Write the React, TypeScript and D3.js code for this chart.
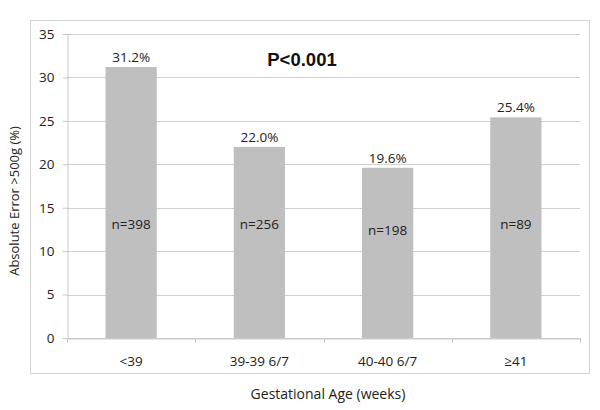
import { useEffect, useRef } from "react";
import * as d3 from "d3";

const categories = ["<39", "39-39 6/7", "40-40 6/7", "≥41"];
const errorPct = [31.2, 22.0, 19.6, 25.4];
const valueLabels = ["31.2%", "22.0%", "19.6%", "25.4%"];
const countLabels = ["n=398", "n=256", "n=198", "n=89"];
const countLabelAt = [13.1, 13.1, 12.4, 13.1];
const yTicks = [0, 5, 10, 15, 20, 25, 30, 35];

function App() {
    const ref = useRef<SVGSVGElement>(null);

    useEffect(() => {
        const svg = d3.select(ref.current);
        svg.selectAll("*").remove();

        const margin = {top: 34, right: 20, bottom: 72, left: 67};
        const width = 600 - margin.left - margin.right,
            height = 410 - margin.top - margin.bottom;
        const font = "'Open Sans', sans-serif";
        const fs = "13.5px";

        // outer frame
        svg.append("rect")
            .attr("x", 30.5).attr("y", 20.5)
            .attr("width", 559).attr("height", 353)
            .attr("fill", "white")
            .attr("stroke", "#d4d4d4");

        const g = svg.append("g")
            .attr("transform", `translate(${margin.left},${margin.top})`);

        const x = d3.scaleBand().domain(categories).range([0, width]).paddingInner(0.6).paddingOuter(0.3);
        const y = d3.scaleLinear().domain([0, 35]).range([height, 0]);

        // grid
        g.selectAll(".grid")
            .data(yTicks)
            .enter()
            .append("line")
            .attr("x1", 0).attr("x2", width)
            .attr("y1", d => Math.round(y(d)) + 0.5)
            .attr("y2", d => Math.round(y(d)) + 0.5)
            .attr("stroke", "#d0d0d0");

        // y axis
        const yAxis = g.append("g")
            .attr("transform", "translate(0.5,0)")
            .call(d3.axisLeft(y).tickValues(yTicks).tickSize(5).tickPadding(8));
        yAxis.select(".domain").attr("stroke", "#c8c8c8");
        yAxis.selectAll(".tick line").attr("stroke", "#c8c8c8");
        yAxis.selectAll("text")
            .style("font-family", font).style("font-size", fs).attr("fill", "#222");

        // bars
        g.selectAll(".bar")
            .data(errorPct)
            .enter()
            .append("rect")
            .attr("x", (d, i) => x(categories[i])!)
            .attr("width", x.bandwidth())
            .attr("y", d => y(d))
            .attr("height", d => height - y(d))
            .attr("fill", "#bfbfbf");

        // x axis
        const xAxis = g.append("g")
            .attr("transform", `translate(0,${Math.round(height) + 0.5})`)
            .call(d3.axisBottom(x).tickSize(0).tickPadding(18));
        xAxis.select(".domain").attr("stroke", "#c8c8c8");
        xAxis.selectAll("text")
            .style("font-family", font).style("font-size", fs).attr("fill", "#222");
        g.selectAll(".xsep")
            .data(d3.range(categories.length + 1))
            .enter()
            .append("line")
            .attr("x1", d => Math.round(d * width / categories.length) + 0.5)
            .attr("x2", d => Math.round(d * width / categories.length) + 0.5)
            .attr("y1", height)
            .attr("y2", height + 5)
            .attr("stroke", "#c8c8c8");

        // value labels
        g.selectAll(".vlab")
            .data(errorPct)
            .enter()
            .append("text")
            .attr("x", (d, i) => x(categories[i])! + x.bandwidth() / 2)
            .attr("y", d => y(d) - 5)
            .attr("text-anchor", "middle")
            .style("font-family", font).style("font-size", fs).attr("fill", "#222")
            .text((d, i) => valueLabels[i]);

        // n labels
        g.selectAll(".nlab")
            .data(countLabels)
            .enter()
            .append("text")
            .attr("x", (d, i) => x(categories[i])! + x.bandwidth() / 2)
            .attr("y", (d, i) => y(countLabelAt[i]) + 5)
            .attr("text-anchor", "middle")
            .style("font-family", font).style("font-size", fs).attr("fill", "#222")
            .text(d => d);

        // p value
        g.append("text")
            .attr("x", 235).attr("y", 32)
            .attr("text-anchor", "middle")
            .style("font-family", "'Liberation Sans', Arial, sans-serif")
            .style("font-size", "18.5px").style("font-weight", "bold")
            .attr("fill", "#111")
            .text("P<0.001");

        // axis titles
        svg.append("text")
            .attr("x", 328).attr("y", 399)
            .attr("text-anchor", "middle")
            .style("font-family", font).style("font-size", "14px").attr("fill", "#222")
            .text("Gestational Age (weeks)");
        svg.append("text")
            .attr("transform", "translate(19,201) rotate(-90)")
            .attr("text-anchor", "middle")
            .style("font-family", font).style("font-size", "13px").attr("fill", "#222")
            .text("Absolute Error >500g (%)");
    }, []);

    return <svg ref={ref} width={600} height={410} style={{position: "absolute", left: 0, top: 0}}></svg>;
}

export default App;
